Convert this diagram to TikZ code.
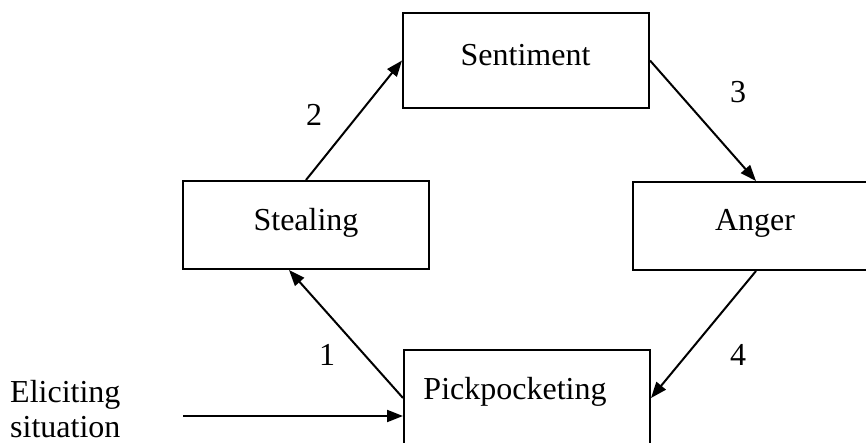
\documentclass[tikz,border=0pt]{standalone}
\usepackage{fontspec}
\setmainfont{Liberation Serif}
\usetikzlibrary{arrows.meta}
\begin{document}
\begin{tikzpicture}[x=1pt,y=-1pt,
  boxnode/.style={draw,line width=2pt,minimum width=246pt,inner sep=0pt},
  txt/.style={inner sep=0pt,font=\fontsize{32}{35}\selectfont},
  conn/.style={line width=2pt,-{Triangle[length=16pt,width=12pt]}}]
\useasboundingbox (0,0) rectangle (866,443);
% boxes
\node[boxnode,minimum height=95pt] (sent) at (526,60.5) {};
\node[boxnode,minimum height=88pt] (steal) at (306,225) {};
\node[boxnode,minimum height=88pt] (anger) at (756,226) {};
\node[boxnode,minimum height=96pt] (pick) at (527,398) {};
% texts
\node[txt] (tsent) at (525.5,55) {Sentiment};
\node[txt] (tsteal) at (306,223) {Stealing};
\node[txt] (tanger) at (755,223) {Anger};
\node[txt] (tpick) at (515,392) {Pickpocketing};
\node[txt,align=left,anchor=west] (elicit) at (10,409.5) {Eliciting\\situation};
% numbers
\node[txt] (n1) at (327,355) {1};
\node[txt] (n2) at (314,115) {2};
\node[txt] (n3) at (738,92) {3};
\node[txt] (n4) at (738,355) {4};
% connectors
\coordinate (src) at (183,416);
\draw[conn] (src) -- (src -| pick.west);
\draw[conn] (pick.west) -- ([xshift=-17pt]steal.south);
\draw[conn] (steal.north) -- (sent.west);
\draw[conn] (sent.east) -- (anger.north);
\draw[conn] (anger.south) -- (pick.east);
\end{tikzpicture}
\end{document}
